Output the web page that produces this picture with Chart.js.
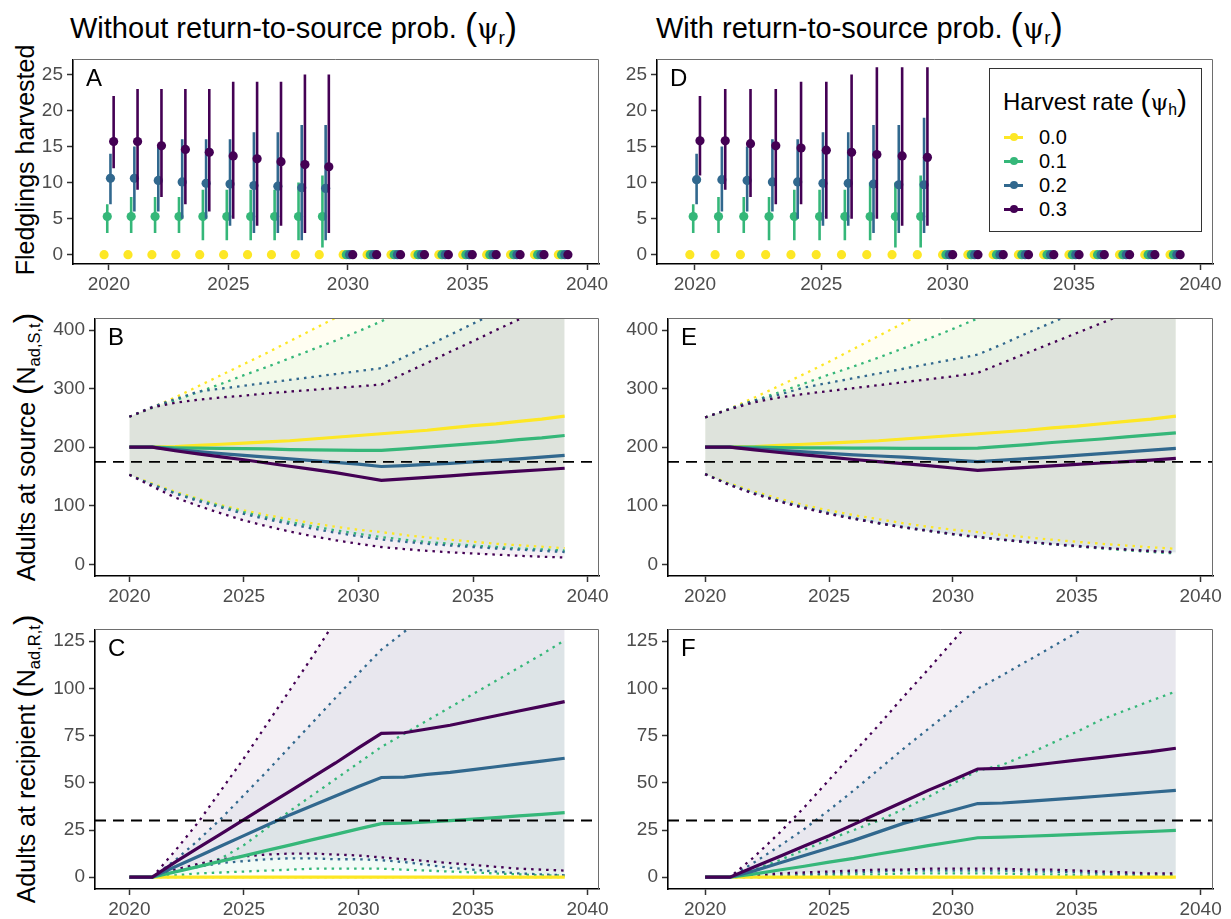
<!DOCTYPE html>
<html>
<head>
<meta charset="utf-8">
<script src="https://cdn.jsdelivr.net/npm/chart.js@4.4.1/dist/chart.umd.min.js"></script>
<style>
  html, body { margin: 0; padding: 0; background: #fff; }
  #fig { position: relative; width: 1231px; height: 919px; overflow: hidden;
         font-family: "Liberation Sans", Arial, sans-serif; color: #000; }
  #fig canvas { position: absolute; }
  .title { position: absolute; font-size: 29px; line-height: 1; white-space: nowrap; }
  .paren { font-size: 1.25em; position: relative; top: 0.04em; font-weight: 300; }
  .psi { font-family: "DejaVu Serif", serif; font-size: 0.95em; }
  .ytitle { position: absolute; font-size: 25px; line-height: 1; white-space: nowrap;
            transform: translate(-50%, -50%) rotate(-90deg); }
  sub { font-size: 0.66em; vertical-align: -0.3em; line-height: 0; }
  #legend { position: absolute; background: #fff; border: 1.5px solid #333; box-sizing: border-box; }
  #legend .lgTitle { position: absolute; left: 13px; top: 16px; font-size: 24px; line-height: 1; white-space: nowrap; }
  #legend .row { position: absolute; left: 14px; height: 20px; font-size: 20px; line-height: 20px; }
  #legend .key { position: absolute; left: 0; top: 9px; width: 19px; height: 2.5px; }
  #legend .dot { position: absolute; left: 5.5px; top: 6px; width: 8px; height: 8px; border-radius: 50%; }
  #legend .lab { position: absolute; left: 35px; top: 0; }
</style>
</head>
<body>
<div id="fig">
  <div class="title" style="left:70px;top:8px">Without return-to-source prob. <span class="paren">(</span><span class="psi">&psi;</span><sub>r</sub><span class="paren">)</span></div>
  <div class="title" style="left:656px;top:8px">With return-to-source prob. <span class="paren">(</span><span class="psi">&psi;</span><sub>r</sub><span class="paren">)</span></div>
  <div class="ytitle" style="left:25px;top:160px">Fledglings harvested</div>
  <div class="ytitle" style="left:25px;top:447px">Adults at source <span class="paren">(</span>N<sub>ad,S,t</sub><span class="paren">)</span></div>
  <div class="ytitle" style="left:25px;top:759px">Adults at recipient <span class="paren">(</span>N<sub>ad,R,t</sub><span class="paren">)</span></div>
</div>
<script>
// ---------------------------------------------------------------
// Data
// ---------------------------------------------------------------
const years = [2020, 2021, 2022, 2023, 2024, 2025, 2026, 2027, 2028, 2029,
               2030, 2031, 2032, 2033, 2034, 2035, 2036, 2037, 2038, 2039];
const harvestRates = ['0.0', '0.1', '0.2', '0.3'];

const xTicks = [2020, 2025, 2030, 2035, 2040];
const fledgeTicks = [0, 5, 10, 15, 20, 25];
const sourceTicks = [0, 100, 200, 300, 400];
const recipientTicks = [0, 25, 50, 75, 100, 125];

const sourceTarget = 175;
const recipientTarget = 30;

// Fledglings harvested, without return-to-source (panel A): median, lower, upper
const fledgeMedA = [
  [0,0,0,0,0,0,0,0,0,0, 0,0,0,0,0,0,0,0,0,0],
  [5.3,5.3,5.3,5.3,5.3,5.3,5.3,5.3,5.3,5.3, 0,0,0,0,0,0,0,0,0,0],
  [10.6,10.6,10.3,10.1,9.9,9.8,9.6,9.5,9.3,9.2, 0,0,0,0,0,0,0,0,0,0],
  [15.7,15.7,15.1,14.6,14.2,13.7,13.3,12.9,12.5,12.2, 0,0,0,0,0,0,0,0,0,0]
];
const fledgeLoA = [
  [0,0,0,0,0,0,0,0,0,0, 0,0,0,0,0,0,0,0,0,0],
  [3,3,3,3,2,2,2,2,2,1, 0,0,0,0,0,0,0,0,0,0],
  [7,6,6,5,5,4,3,3,2,2, 0,0,0,0,0,0,0,0,0,0],
  [12,9,8,7,6,5,4,4,3,3, 0,0,0,0,0,0,0,0,0,0]
];
const fledgeHiA = [
  [0,0,0,0,0,0,0,0,0,0, 0,0,0,0,0,0,0,0,0,0],
  [7,8,8,8,9,9,9,9,10,11, 0,0,0,0,0,0,0,0,0,0],
  [14,15,15,16,16,16,17,17,18,18, 0,0,0,0,0,0,0,0,0,0],
  [22,23,23,23,23,24,24,24,25,25, 0,0,0,0,0,0,0,0,0,0]
];

// Fledglings harvested, with return-to-source (panel D)
const fledgeMedD = [
  [0,0,0,0,0,0,0,0,0,0, 0,0,0,0,0,0,0,0,0,0],
  [5.3,5.3,5.3,5.3,5.3,5.3,5.3,5.3,5.3,5.3, 0,0,0,0,0,0,0,0,0,0],
  [10.4,10.4,10.3,10.1,10.1,9.9,9.9,9.8,9.7,9.7, 0,0,0,0,0,0,0,0,0,0],
  [15.8,15.8,15.4,15.1,14.8,14.5,14.2,13.9,13.7,13.5, 0,0,0,0,0,0,0,0,0,0]
];
const fledgeLoD = [
  [0,0,0,0,0,0,0,0,0,0, 0,0,0,0,0,0,0,0,0,0],
  [3,3,3,2,2,2,2,2,1,1, 0,0,0,0,0,0,0,0,0,0],
  [7,6,6,6,5,4,4,3,3,3, 0,0,0,0,0,0,0,0,0,0],
  [11,9,8,7,7,5,5,5,4,4, 0,0,0,0,0,0,0,0,0,0]
];
const fledgeHiD = [
  [0,0,0,0,0,0,0,0,0,0, 0,0,0,0,0,0,0,0,0,0],
  [7,8,8,8,9,9,9,10,10,11, 0,0,0,0,0,0,0,0,0,0],
  [14,15,15,16,16,17,17,18,18,19, 0,0,0,0,0,0,0,0,0,0],
  [22,23,23,23,24,24,25,26,26,26, 0,0,0,0,0,0,0,0,0,0]
];

// Adults at source, without return-to-source (panel B)
const sourceMedB = [
  [200,200,201,203,205,207,209,211,214,217,220,223,226,229,233,237,240,244,248,253],
  [200,200,199,198.5,198,197.5,197,196,195.5,195,194.5,194.5,197,200,203,206,209,213,216,220],
  [200,200,196,192.5,189,186,183,180,177,174,171,167,168.5,170.5,172.5,175,177.5,180,183,186],
  [200,200,194,188.5,183.5,178.5,173,167.5,162,156.5,150,143.5,146,148.5,151,154,156.5,159,161.5,164]
];
const sourceLoB = [
  [153,138,124,112,101,92,84,77,70,64,59,55,50,46,42,38.5,35,32.5,30,27.5],
  [153,136,122,110,99,89,80,72,65,58,52,46.5,42,38,35,32,29.5,27,25.5,23.5],
  [153,136,121,108,97,86,77,69,61,54,48,42.5,38.5,35,32,29.5,27,25,23,21],
  [153,133,114,100,87,75,65,56,48,41,35,29.5,26,23,20.5,18.5,16.5,14.5,13,11.5]
];
const sourceHiB = [
  [252,268,285,304,323,342,361,381,401,421,442,463,484,505,527,549,571,594,617,640],
  [252,267,280,294,308,323,337,352,367,382,398,415,435,455,475,495,515,535,555,575],
  [252,269,282,295,300,305,310,315,320,325,330,335,354,373,392,411,430,449,468,487],
  [252,268,276,281,285,288,292,295,298,301,304,307,326,344,363,381,400,418,437,455]
];

// Adults at source, with return-to-source (panel E)
const sourceMedE = [
  [200,200,201,203,205,207,209,211,214,217,220,223,226,229,233,236,240,244,248,253],
  [200,200,200,199.5,199,199,198.5,198.5,198,198,198,198.5,201.5,204.5,208,211,214,217.5,221,224.5],
  [200,200,197,194.5,192,189.5,187,185,183,180.5,178,175.5,178,180.5,183,186,189,192,195,198],
  [200,200,195.5,191,187,183,179,175.5,172,168.5,164.5,160.5,163,165.5,168,170.5,173,175.5,178,181]
];
const sourceLoE = [
  [154,138,124,112,101,92,84,77,70,64,59,55,50,46,42,38.5,35,32,29,26.5],
  [154,136,121,108,97,87,78,70,63,57,51,46,41.5,37.5,34,30.5,27,24,21,18.5],
  [154,136,121,108.5,97.5,87.5,79,71,64,58,52,47,42.5,38.5,35,31.5,28.5,25.5,23,21],
  [154,135,120,107,96,86,77.5,70,63,57,51.5,46.5,42,38,34.5,31,28,25,22.5,20]
];
const sourceHiE = [
  [251,266,285,305,325,346,368,390,412,434,457,480,503,526,550,574,598,622,646,670],
  [251,265,280,294,309,324,338,353,369,385,402,420,438,456,474,492,510,528,546,564],
  [251,266,280,290,302,310,318,326,334,342,350,358,376,395,413,432,450,468,487,505],
  [251,265,277,285,291,296,301,306,311,316,321,327,344,361,378,395,412,429,446,463]
];

// Adults at recipient, without return-to-source (panel C)
const recipMedC = [
  [0,0,0,0,0,0,0,0,0,0,0,0,0,0,0,0,0,0,0,0],
  [0,0,2.8,5.6,8.5,11.3,14.2,17,19.9,22.7,25.6,28.4,28.6,29.3,30,30.8,31.6,32.5,33.3,34.2],
  [0,0,5.5,11,16.5,22,27.5,33,38,43,48,52.8,53,54.5,55.5,57,58.5,60,61.5,63],
  [0,0,8,15.5,23,30.5,38,45.5,53,60.5,68.5,76.2,76.5,78.5,80.5,83,85.5,88,90.5,93]
];
const recipLoC = [
  [0,0,0,0,0,0,0,0,0,0,0,0,0,0,0,0,0,0,0,0],
  [0,0,1,2,2.5,3,3.5,4,4.5,4.5,4.5,4.5,4,3.5,3,2.5,2,1.5,1,1],
  [0,0,3,5.5,7.5,8.5,9.5,10,10,9.5,9.5,9,8,6.5,5,4,3,2,1.5,1],
  [0,0,4,7,9.5,11,12,12.5,12.5,12,11.5,10.5,9.5,8.5,7.5,6.5,5.5,4.5,4,3.5]
];
const recipHiC = [
  [0,0,0,0,0,0,0,0,0,0,0,0,0,0,0,0,0,0,0,0],
  [0,0,3,6.5,10,17,26,35,43.5,52,60.5,69,76,83,90,97,104,111,118,125.5],
  [0,0,9,19.5,31,43.5,56,69,82,95,108,120.5,130,139,148,157,166,175,184,193],
  [0,0,14,29,46,63,81,99,117,136,155,174,190,206,222,238,254,270,286,302]
];

// Adults at recipient, with return-to-source (panel F)
const recipMedF = [
  [0,0,0,0,0,0,0,0,0,0,0,0,0,0,0,0,0,0,0,0],
  [0,0,1.8,3.8,5.8,8,10,12.3,14.5,16.7,18.8,20.9,21.2,21.7,22.2,22.7,23.2,23.7,24.2,24.8],
  [0,0,3.5,7.5,11.5,15.5,19.5,24,28.5,32,35.5,39,39.3,40.2,41.1,42,43,44,45,46],
  [0,0,5.5,11,16.5,22,28,34,40,46,51.5,57.3,57.6,59,60.5,62,63.5,65,66.5,68.3]
];
const recipLoF = [
  [0,0,0,0,0,0,0,0,0,0,0,0,0,0,0,0,0,0,0,0],
  [0,0,0,0.5,1,1,1.5,1.5,2,2,2,2,2,1.5,1.5,1,1,1,0.5,0.5],
  [0,0,0.5,1,1.5,2,2.5,3,3.5,3.5,3.5,3.5,3.5,3,3,2.5,2,1.5,1.5,1],
  [0,0,1,2,2.5,3,3.5,4,4,4.5,4.5,4.5,4.5,4,4,3.5,3,2.5,2,2]
];
const recipHiF = [
  [0,0,0,0,0,0,0,0,0,0,0,0,0,0,0,0,0,0,0,0],
  [0,0,4,9,14.5,20,25,30,36,42.5,49.5,56.4,59.5,65,71,77,83.5,88.5,93.5,98.4],
  [0,0,8,16.5,25.5,35.5,46,57,68,78.5,89,99.8,107,114.5,122,129.5,137,144.5,152,159.5],
  [0,0,11,23.5,37,51.5,66,80.5,95.5,110,125,140,155,170,185,200,215,230,245,260]
];

// ---------------------------------------------------------------
// Styling and layout
// ---------------------------------------------------------------
const palette = ['#FDE725', '#35B779', '#31688E', '#440154'];   // viridis, 4 levels
const dodge = [-0.2, -0.067, 0.067, 0.2];                          // horizontal offset per rate
const FONT = '"Liberation Sans", Arial, sans-serif';
const X_MIN = 2018.5, X_MAX = 2040.5;
const AX_W = 75, AX_H = 45, PAD_T = 15, PAD_R = 30;

Chart.defaults.font.family = FONT;

function rgba(hex, a) {
  const n = parseInt(hex.slice(1), 16);
  return `rgba(${(n >> 16) & 255},${(n >> 8) & 255},${n & 255},${a})`;
}

// frame: thin grey top/right border + panel letter
const framePlugin = {
  id: 'frame',
  afterDraw(chart, args, opts) {
    const { ctx, chartArea: a } = chart;
    ctx.save();
    ctx.strokeStyle = '#6e6e6e';
    ctx.lineWidth = 1;
    ctx.beginPath();
    ctx.moveTo(a.left, Math.round(a.top) + 0.5);
    ctx.lineTo(Math.round(a.right) - 0.5, Math.round(a.top) + 0.5);
    ctx.lineTo(Math.round(a.right) - 0.5, a.bottom);
    ctx.stroke();
    ctx.fillStyle = '#000';
    ctx.font = `24px ${FONT}`;
    ctx.textBaseline = 'alphabetic';
    ctx.fillText(opts.letter, a.left + 13, a.top + 27);
    ctx.restore();
  }
};

function axis(min, max, ticks, isX) {
  return {
    type: 'linear', min, max,
    afterBuildTicks: s => { s.ticks = ticks.map(v => ({ value: v })); },
    afterFit: s => { if (isX) s.height = AX_H; else s.width = AX_W; },
    ticks: {
      callback: v => String(v), color: '#4d4d4d', autoSkip: false, maxRotation: 0,
      font: { size: 19, family: FONT }, padding: isX ? 3 : 4
    },
    grid: { drawOnChartArea: false, drawTicks: true, tickLength: 6, tickColor: '#333', tickWidth: 1.5 },
    border: { display: true, color: '#000', width: 1.6 }
  };
}

function makePanel(box, letter, yMin, yMax, yTicks, datasets) {
  const cv = document.createElement('canvas');
  const w = Math.round(box.r - box.l) + AX_W + PAD_R;
  const h = Math.round(box.b - box.t) + PAD_T + AX_H;
  cv.width = w; cv.height = h;
  cv.style.width = w + 'px'; cv.style.height = h + 'px';
  cv.style.left = Math.round(box.l - AX_W) + 'px';
  cv.style.top = Math.round(box.t - PAD_T) + 'px';
  document.getElementById('fig').appendChild(cv);
  datasets.forEach((d, i) => { d.order = datasets.length - i; });
  return new Chart(cv, {
    type: 'line',
    data: { datasets },
    options: {
      responsive: false, animation: false, devicePixelRatio: 1, events: [],
      layout: { padding: { left: 0, top: PAD_T, right: PAD_R, bottom: 0 } },
      plugins: { legend: { display: false }, tooltip: { enabled: false },
                 filler: { drawTime: 'beforeDatasetsDraw' }, frame: { letter } },
      scales: { x: axis(X_MIN, X_MAX, xTicks, true), y: axis(yMin, yMax, yTicks, false) }
    },
    plugins: [framePlugin]
  });
}

// point + interval marks, dodged by harvest rate
function fledgeSets(med, lo, hi) {
  const sets = [];
  palette.forEach((col, i) => {
    const bars = [];
    years.forEach((yr, j) => {
      if (hi[i][j] > lo[i][j]) {
        const x = yr + dodge[i];
        bars.push({ x, y: lo[i][j] }, { x, y: hi[i][j] }, { x, y: null });
      }
    });
    sets.push({ data: bars, borderColor: col, borderWidth: 2.6, pointRadius: 0, spanGaps: false, fill: false });
    sets.push({
      data: years.map((yr, j) => ({ x: yr + dodge[i], y: med[i][j] })),
      showLine: false, pointRadius: 4.6, pointBackgroundColor: col, pointBorderColor: col,
      pointBorderWidth: 0, fill: false
    });
  });
  return sets;
}

// ribbons, dotted interval bounds, median lines, target line
function popSets(med, lo, hi, target) {
  const pts = arr => years.map((yr, j) => ({ x: yr, y: arr[j] }));
  const sets = [];
  palette.forEach((col, i) => {
    const loIdx = sets.length;
    sets.push({ data: pts(lo[i]), borderColor: col, borderWidth: 2.3, borderDash: [2.5, 5],
                pointRadius: 0, fill: false });
    sets.push({ data: pts(hi[i]), borderColor: col, borderWidth: 2.3, borderDash: [2.5, 5],
                pointRadius: 0, fill: { target: loIdx }, backgroundColor: rgba(col, 0.06) });
  });
  palette.forEach((col, i) => {
    sets.push({ data: pts(med[i]), borderColor: col, borderWidth: 3.2, pointRadius: 0, fill: false });
  });
  sets.push({ data: [{ x: X_MIN, y: target }, { x: X_MAX, y: target }], borderColor: '#000',
              borderWidth: 1.9, borderDash: [11, 7], pointRadius: 0, fill: false, clip: 0 });
  return sets;
}

const boxA = { l: 73.3, t: 58.5, r: 599.3, b: 263 };
const boxD = { l: 656.5, t: 58.5, r: 1212, b: 263 };
const boxB = { l: 95, t: 317.6, r: 599.3, b: 575.7 };
const boxE = { l: 667.5, t: 317.6, r: 1212, b: 575.7 };
const boxC = { l: 95, t: 629, r: 599.3, b: 888.5 };
const boxF = { l: 667.5, t: 629, r: 1212, b: 888.5 };

makePanel(boxA, 'A', -1.29, 27.09, fledgeTicks, fledgeSets(fledgeMedA, fledgeLoA, fledgeHiA));
makePanel(boxD, 'D', -1.29, 27.09, fledgeTicks, fledgeSets(fledgeMedD, fledgeLoD, fledgeHiD));
makePanel(boxB, 'B', -20, 420, sourceTicks, popSets(sourceMedB, sourceLoB, sourceHiB, sourceTarget));
makePanel(boxE, 'E', -20, 420, sourceTicks, popSets(sourceMedE, sourceLoE, sourceHiE, sourceTarget));
makePanel(boxC, 'C', -6.25, 131.25, recipientTicks, popSets(recipMedC, recipLoC, recipHiC, recipientTarget));
makePanel(boxF, 'F', -6.25, 131.25, recipientTicks, popSets(recipMedF, recipLoF, recipHiF, recipientTarget));

// legend for harvest rate
const legend = document.createElement('div');
legend.id = 'legend';
Object.assign(legend.style, { left: '989px', top: '68px', width: '213px', height: '164px' });
legend.innerHTML = '<div class="lgTitle">Harvest rate <span class="paren">(</span><span class="psi">&psi;</span><sub>h</sub><span class="paren">)</span></div>';
harvestRates.forEach((lab, i) => {
  const row = document.createElement('div');
  row.className = 'row';
  row.style.top = (58 + i * 24) + 'px';
  row.innerHTML = `<span class="key" style="background:${palette[i]}"></span>` +
                  `<span class="dot" style="background:${palette[i]}"></span>` +
                  `<span class="lab">${lab}</span>`;
  legend.appendChild(row);
});
document.getElementById('fig').appendChild(legend);
</script>
</body>
</html>
